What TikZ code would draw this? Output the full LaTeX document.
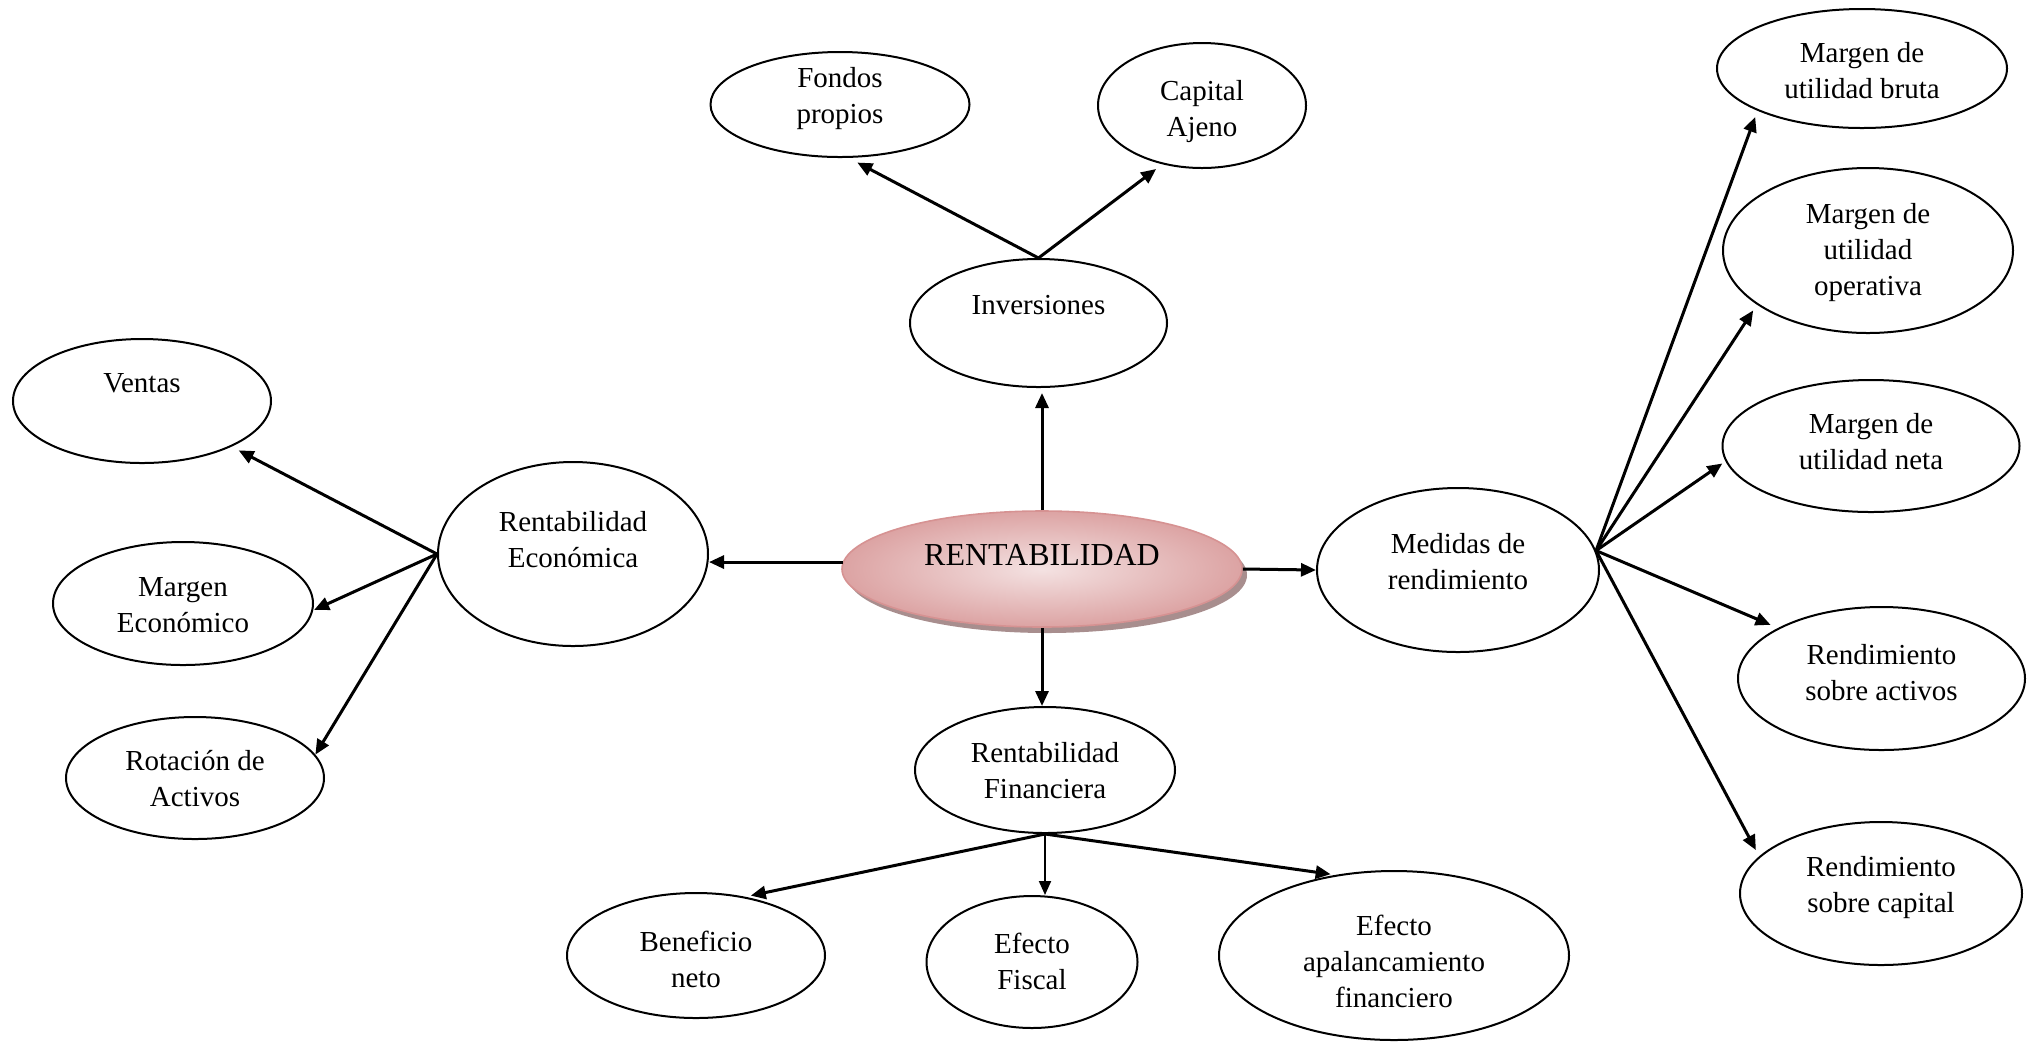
\documentclass[tikz,border=0pt]{standalone}
\usepackage{fontspec}
\setmainfont{Liberation Serif}
\usetikzlibrary{shapes.geometric,arrows.meta}
\definecolor{cenlight}{HTML}{F4E2E2}
\definecolor{cendark}{HTML}{DCA3A3}
\definecolor{cenedge}{HTML}{D69292}
\definecolor{censhadow}{HTML}{A88E8E}
\begin{document}
\begin{tikzpicture}[x=0.5pt,y=-0.5pt,
  bub/.style={ellipse,draw,line width=1pt,inner sep=0pt},
  txt/.style={align=center,inner sep=0pt,font=\fontsize{14.5}{18}\selectfont},
  arr/.style={line width=1.5pt,-{Triangle[length=7.5pt,width=6.5pt]}},
  thinarr/.style={line width=1pt,-{Triangle[length=7pt,width=6pt]}}]
\useasboundingbox (0,0) rectangle (2035,1041);

% central concept with soft shadow and gradient fill
\node[ellipse,inner sep=0pt,fill=censhadow,minimum width=200pt,minimum height=58pt] (cen-shadow) at (1047,575) {};
\node[ellipse,inner sep=0pt,draw=cenedge,line width=0.8pt,inner color=cenlight,outer color=cendark,
      minimum width=200pt,minimum height=58pt] (cen) at (1042,569) {};
\node[inner sep=0pt,font=\fontsize{16}{19}\selectfont] (t-cen) at (1042,555) {RENTABILIDAD};

% first level
\node[bub,minimum width=128.5pt,minimum height=64pt] (inv) at (1038.5,323) {};
\node[txt] (t-inv) at (1038.5,305) {Inversiones};
\node[bub,minimum width=135pt,minimum height=92pt] (rec) at (573,554) {};
\node[txt] (t-rec) at (573,540) {Rentabilidad\\Económica};
\node[bub,minimum width=141pt,minimum height=82pt] (med) at (1458,570) {};
\node[txt] (t-med) at (1458,561.5) {Medidas de\\rendimiento};
\node[bub,minimum width=130pt,minimum height=63pt] (fin) at (1045,770) {};
\node[txt] (t-fin) at (1045,771) {Rentabilidad\\Financiera};

% investments
\node[bub,minimum width=129.5pt,minimum height=52.5pt] (fon) at (840,104.5) {};
\node[txt] (t-fon) at (840,98.5) {Fondos\\propios};
\node[bub,minimum width=104pt,minimum height=62.5pt] (cap) at (1202,105.5) {};
\node[txt] (t-cap) at (1202,111.5) {Capital\\Ajeno};

% economic profitability
\node[bub,minimum width=129pt,minimum height=62pt] (ven) at (142,401) {};
\node[txt] (t-ven) at (142,383) {Ventas};
\node[bub,minimum width=130pt,minimum height=61.5pt] (mar) at (183,603.5) {};
\node[txt] (t-mar) at (183,605) {Margen\\Económico};
\node[bub,minimum width=129pt,minimum height=61pt] (rot) at (195,778) {};
\node[txt] (t-rot) at (195,778.5) {Rotación de\\Activos};

% financial profitability
\node[bub,minimum width=129pt,minimum height=62.5pt] (ben) at (696,955.5) {};
\node[txt] (t-ben) at (696,959) {Beneficio\\neto};
\node[bub,minimum width=105.5pt,minimum height=66pt] (fis) at (1032,962) {};
\node[txt] (t-fis) at (1032,961) {Efecto\\Fiscal};
\node[bub,minimum width=175pt,minimum height=84.5pt] (apa) at (1394,955.5) {};
\node[txt] (t-apa) at (1394,961) {Efecto\\apalancamiento\\financiero};

% performance measures
\node[bub,minimum width=145pt,minimum height=59.5pt] (mub) at (1862,68.5) {};
\node[txt] (t-mub) at (1862,70.5) {Margen de\\utilidad bruta};
\node[bub,minimum width=145pt,minimum height=82.5pt] (muo) at (1868,250.5) {};
\node[txt] (t-muo) at (1868,253) {Margen de\\utilidad\\operativa};
\node[bub,minimum width=148.5pt,minimum height=66pt] (mun) at (1871,446) {};
\node[txt] (t-mun) at (1871,441.5) {Margen de\\utilidad neta};
\node[bub,minimum width=143.5pt,minimum height=71.5pt] (rsa) at (1881.5,678.5) {};
\node[txt] (t-rsa) at (1881.5,672.5) {Rendimiento\\sobre activos};
\node[bub,minimum width=141pt,minimum height=71.5pt] (rsc) at (1881,893.5) {};
\node[txt] (t-rsc) at (1881,887.5) {Rendimiento\\sobre capital};

% connectors from the centre
\draw[arr,shorten >=2.5pt] (cen.north) -- (cen.north |- inv.south);
\draw[arr] (cen.178.3) -- (cen.178.3 -| rec.east);
\draw[arr] (cen.east) -- (med.west);
\draw[arr] (cen.south) -- (cen.south |- fin.north);

% investments
\draw[arr,shorten >=5pt] (inv.north) -- (fon.-81.8);
\draw[arr,shorten >=3.9pt] (inv.north) -- (cap.236.3);

% economic profitability
\draw[arr,shorten >=4pt] (rec.west) -- (ven.-27.3);
\draw[arr,shorten >=0.5pt] (rec.west) -- (mar.-3.7);
\draw[arr] (rec.west) -- (rot.11);

% performance measures
\draw[arr,shorten >=3.3pt] (med.8.25) -- (mub.202.2);
\draw[arr,shorten >=3.4pt] (med.8.25) -- (muo.206.6);
\draw[arr,shorten >=1.9pt] (med.8.25) -- (mun.186.2);
\draw[arr,shorten >=4pt] (med.8.25) -- (rsa.154);
\draw[arr,shorten >=3.5pt] (med.8.25) -- (rsc.163.3);

% financial profitability
\draw[arr,shorten >=2.8pt] (fin.south) -- (ben.50.8);
\draw[thinarr] (fin.south) -- (fin.south |- fis.north);
\draw[arr,shorten >=2.4pt] (fin.south) -- (apa.126.2);
\end{tikzpicture}
\end{document}
